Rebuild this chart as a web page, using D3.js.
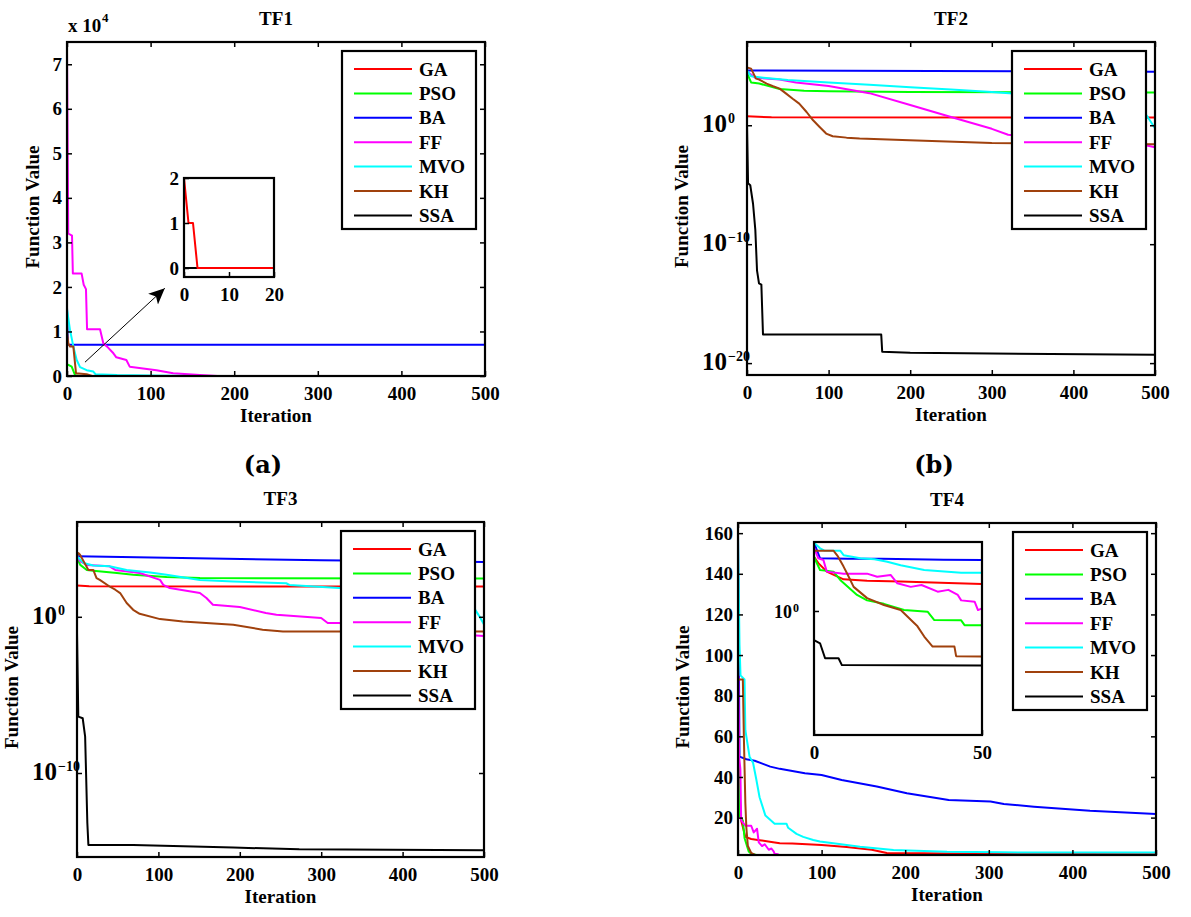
<!DOCTYPE html>
<html><head><meta charset="utf-8">
<script src="https://cdn.jsdelivr.net/npm/d3@7"></script>
<style>
body{margin:0;background:#fff;}
</style></head><body>
<svg id="c" width="1191" height="917"></svg>
<script>
// ---------- labels / ticks ----------
const algorithms = ["GA","PSO","BA","FF","MVO","KH","SSA"];
const colors = ["#ff0000","#00ff00","#0000ff","#ff00ff","#00ffff","#a0410d","#000000"];
const titles = ["TF1","TF2","TF3","TF4"];
const subLabels = ["(a)","(b)"];
const iterTicks = [0,100,200,300,400,500];
const tf1YTicks = [0,1e4,2e4,3e4,4e4,5e4,6e4,7e4];
const tf1InsetXTicks = [0,10,20];
const tf1InsetYTicks = [0,1,2];
const logTicks = [1e0,1e-10,1e-20];
const tf4YTicks = [20,40,60,80,100,120,140,160];
const tf4InsetXTicks = [0,50];
const tf4InsetYTicks = [1e0];

// ---------- TF1 series: [iteration, value] ----------
const tf1GA  = [[0,2],[1,1],[2,1],[3,0],[500,0]];
const tf1PSO = [[0,2500],[1.6,2500],[5.6,2100],[9.6,200],[15,0],[500,0]];
const tf1BA  = [[0,15500],[1,7000],[500,7000]];
const tf1FF  = [[0,73000],[1.5,32000],[6,31500],[7,23000],[17.5,23000],[20,20500],[22.7,19500],[24,10500],[39.5,10500],[43.5,7300],[48,6600],[55.5,5100],[59,4200],[71,3600],[75,2100],[91,1700],[107,1300],[127,600],[159,200],[180,0],[500,0]];
const tf1MVO = [[0,15000],[3.6,10300],[5.6,8500],[7.6,6600],[11.6,3600],[15.6,2000],[23.5,1300],[31.5,1000],[34,400],[60,200],[100,100],[150,0],[500,0]];
const tf1KH  = [[0,9800],[1.6,7300],[3.6,6600],[7.6,6600],[10.8,600],[23.5,400],[30,0],[500,0]];
const tf1SSA = [[0,0],[500,0]];

// ---------- TF2 series ----------
const tf2GA  = [[0,5.8],[30,4.6],[500,4.4]];
const tf2PSO = [[0,2.5e4],[5,4.0e3],[15,3.2e3],[40,1.1e3],[70,790],[100,710],[200,630],[500,560]];
const tf2BA  = [[0,4.0e4],[500,3.2e4]];
const tf2FF  = [[0,3.2e4],[10,1.0e4],[40,7.1e3],[60,4.0e3],[100,2.0e3],[150,500],[200,50],[250,5.0],[300,0.5],[320,0.16],[400,0.05],[490,0.02],[500,0.014]];
const tf2MVO = [[0,4.0e4],[5,1.3e4],[20,1.0e4],[50,6.3e3],[100,4.0e3],[150,2.5e3],[200,1.6e3],[250,1.0e3],[300,630],[330,450],[400,160],[450,100],[480,32],[490,6.3],[500,0.56]];
const tf2KH  = [[0,7.1e4],[5,5.8e4],[11,8.3e3],[15,6.9e3],[24,3.2e3],[32,1.9e3],[40,1.2e3],[48,460],[56,170],[64,66],[73,13],[81,2.6],[89,0.72],[97,0.2],[105,0.12],[122,0.091],[138,0.076],[199,0.055],[300,0.032],[500,0.025]];
const tf2SSA = [[0,1],[1.3,1.3e-5],[4,9e-6],[7.4,2.5e-7],[10.2,1.6e-9],[12.3,6e-13],[14.7,5e-14],[17.6,4e-14],[19.6,2.5e-18],[164.5,2.5e-18],[165.7,9e-20],[200,7.4e-20],[500,5e-20]];

// ---------- TF3 series ----------
const tf3GA  = [[0,100],[15,89],[500,87]];
const tf3PSO = [[0,5.8e3],[4,2.1e3],[12,1.0e3],[20,890],[49,630],[69,490],[110,350],[151,300],[500,280]];
const tf3BA  = [[0,7.4e3],[300,4.2e3],[500,3.2e3]];
const tf3FF  = [[0,7.4e3],[4,3.5e3],[12,2.1e3],[40,1.7e3],[47,1.0e3],[77,630],[102,230],[106,110],[114,69],[151,33],[159,16],[167,5.9],[200,4.2],[232,1.74],[245,1.35],[300,0.83],[308,0.4],[322,0.4],[400,0.13],[500,0.06]];
const tf3MVO = [[0,7.4e3],[8,2.8e3],[20,1.9e3],[40,1.7e3],[61,1.0e3],[90,690],[110,490],[151,230],[192,180],[257,140],[261,110],[322,69],[420,40],[480,16],[494,1.15],[500,0.32]];
const tf3KH  = [[0,7.9e3],[1.6,1.2e4],[3.7,9.3e3],[14,1.0e3],[20,1.0e3],[24,300],[28,230],[40,87],[47,54],[53,33],[61,7.6],[69,2.8],[77,1.55],[102,0.71],[130,0.5],[192,0.31],[228,0.15],[253,0.115],[500,0.115]];
const tf3SSA = [[0,0.1],[1.6,4.1e-7],[7,3.2e-7],[10,2.1e-8],[12.7,6.3e-14],[14,2.5e-15],[69,2.5e-15],[192,1.7e-15],[273,1.3e-15],[500,1.15e-15]];

// ---------- TF4 series ----------
const tf4GA  = [[0,56],[1.3,35],[3.8,18.6],[8.8,10.5],[15.8,9.5],[25.8,8.9],[40,8.0],[50,7.4],[65,7.3],[100,6.5],[130,5.5],[160,4.2],[178,2.6],[300,2.2],[500,2.0]];
const tf4PSO = [[0,55],[1.8,21],[5.8,18.6],[7.8,10],[12.8,3.3],[15.8,2.2],[20.8,1.7],[26.8,1.07],[33.8,0.95],[35.8,0.51],[43.8,0.5],[44.8,0.35],[50,0.35],[500,0.3]];
const tf4BA  = [[0,160],[1.8,50],[10,48.7],[20,48],[38.6,45.1],[50,44],[80,41.8],[100,41],[124,38.5],[166,35.3],[202,32],[252,28.7],[302,27.9],[318,26.7],[354,25.4],[421,23.4],[500,21.8]];
const tf4FF  = [[0,110],[1.3,50],[2.8,44],[3.8,18.6],[8.8,16],[15.8,16],[18.8,12.7],[22.8,14.5],[24.8,7.8],[28.8,6.0],[32,6.9],[36.8,4.2],[40,4.8],[42.8,3.3],[43.8,2.2],[47.8,2.0],[48.8,1.07],[50,1.2],[100,1.0],[500,0.9]];
const tf4MVO = [[0,160],[1.8,105],[3,90],[7.8,88],[8.8,63],[13.8,50],[18,47],[21.8,39],[25.8,30],[32.8,21],[43.8,17],[58,17],[60,15],[70,12],[78,10.5],[90,9],[98,8.2],[146,5.7],[186,4.1],[250,3.2],[314,2.9],[500,2.8]];
const tf4KH  = [[0,88],[5.8,88],[7,60],[8.8,27],[10,15],[11.8,6],[15.8,2.6],[20.8,1.56],[25.8,1.07],[27.8,0.66],[30.8,0.32],[32.8,0.15],[35.3,0.071],[41.8,0.071],[42.3,0.035],[50,0.034],[500,0.03]];
const tf4SSA = [[0,0.115],[1.8,0.091],[3.3,0.03],[7.3,0.03],[8.3,0.018],[50,0.0174],[500,0.017]];

// annotation arrow in TF1 data coordinates
const tf1ArrowFrom = [21.5, 3100];
const tf1ArrowTo = [117, 19700];

const tf1 = [tf1GA,tf1PSO,tf1BA,tf1FF,tf1MVO,tf1KH,tf1SSA];
const tf2 = [tf2GA,tf2PSO,tf2BA,tf2FF,tf2MVO,tf2KH,tf2SSA];
const tf3 = [tf3GA,tf3PSO,tf3BA,tf3FF,tf3MVO,tf3KH,tf3SSA];
const tf4 = [tf4GA,tf4PSO,tf4BA,tf4FF,tf4MVO,tf4KH,tf4SSA];

// ---------- layout ----------
const FONT = "'Liberation Serif', 'Times New Roman', Times, serif";
const svg = d3.select("#c");
const FS = 19;
function txt(sel){ return sel.append("text").style("font-family",FONT).style("font-weight","bold").attr("fill","#000"); }
const panels = [
  {x0:67, x1:485, y0:42, y1:376, ylabX:39},
  {x0:747,x1:1155,y0:42, y1:375, ylabX:688},
  {x0:77, x1:484, y0:522,y1:857, ylabX:18},
  {x0:738,x1:1156,y0:523,y1:855, ylabX:689}
];
const defs = svg.append("defs");
defs.append("marker").attr("id","arr").attr("viewBox","0 0 10 10")
  .attr("refX",10).attr("refY",5).attr("markerWidth",16).attr("markerHeight",16)
  .attr("markerUnits","userSpaceOnUse").attr("orient","auto")
  .append("path").attr("d","M0,0.5 L10,5 L0,9.5 L2.5,5 Z").attr("fill","#000");

let clipN = 0;
function makeClip(x0,y0,x1,y1){
  const id = "clip"+(clipN++);
  defs.append("clipPath").attr("id",id).append("rect")
    .attr("x",x0).attr("y",y0).attr("width",x1-x0).attr("height",y1-y0);
  return id;
}

function drawSeries(data, x, y, box, cols){
  const id = makeClip(box.x0,box.y0,box.x1,box.y1);
  const g = svg.append("g").attr("clip-path","url(#"+id+")");
  const line = d3.line().x(d=>x(d[0])).y(d=>y(d[1]));
  data.forEach((s,i)=>{
    g.append("path").attr("d",line(s)).attr("fill","none")
      .attr("stroke",(cols||colors)[i]).attr("stroke-width",2).attr("stroke-linejoin","round");
  });
}

function frame(box, x, y, xTicks, yTicks, opts){
  opts = opts||{};
  const gx = svg.append("g").attr("transform","translate(0,"+box.y1+")")
    .call(d3.axisBottom(x).tickValues(xTicks).tickSize(-5).tickPadding(10.5));
  const gxt = svg.append("g").attr("transform","translate(0,"+box.y0+")")
    .call(d3.axisTop(x).tickValues(opts.noMirror?[]:xTicks).tickSize(-5).tickFormat(""));
  const ya = d3.axisLeft(y).tickValues(yTicks).tickSize(-5).tickPadding(5);
  if (opts.yFormat) ya.tickFormat(opts.yFormat);
  if (opts.logLabels) ya.tickFormat("");
  const gy = svg.append("g").attr("transform","translate("+box.x0+",0)").call(ya);
  const gyr = svg.append("g").attr("transform","translate("+box.x1+",0)")
    .call(d3.axisRight(y).tickValues(opts.noMirror?[]:yTicks).tickSize(-5).tickFormat(""));
  [gx,gxt,gy,gyr].forEach(g=>{
    g.attr("font-family",null).attr("font-size",null);
    g.select(".domain").remove();
    g.selectAll(".tick line").attr("stroke","#000").attr("stroke-width",1.5);
    g.selectAll("text").attr("font-size",FS).style("font-family",FONT).style("font-weight","bold").attr("fill","#000");
  });
  svg.append("rect").attr("x",box.x0).attr("y",box.y0)
    .attr("width",box.x1-box.x0).attr("height",box.y1-box.y0)
    .attr("fill","none").attr("stroke","#000").attr("stroke-width",2.2);
  if (opts.logLabels){
    const L = opts.logLabels;
    yTicks.forEach(t=>{
      const e = Math.round(Math.log10(t));
      const ty = y(t);
      txt(svg).attr("x",box.x0-L.gap).attr("y",ty+L.base)
        .attr("text-anchor","end").attr("font-size",L.fs).text("10");
      txt(svg).attr("x",box.x0-L.gap+1).attr("y",ty+L.supBase)
        .attr("font-size",L.sfs).text(e<0 ? "\u2212"+(-e) : String(e));
    });
  }
}

function legend(box){
  const w=134, h=178;
  const lx = box.x1-9-w, ly = box.y0+9;
  const g = svg.append("g");
  g.append("rect").attr("x",lx).attr("y",ly).attr("width",w).attr("height",h)
    .attr("fill","#fff").attr("stroke","#000").attr("stroke-width",2.2);
  algorithms.forEach((a,i)=>{
    const yy = ly+18+i*24.4;
    g.append("line").attr("x1",lx+12).attr("x2",lx+70).attr("y1",yy).attr("y2",yy)
      .attr("stroke",colors[i]).attr("stroke-width",2);
    txt(g).attr("x",lx+77).attr("y",yy).attr("dy","0.35em")
      .attr("font-size",FS).text(a);
  });
}

function labels(box, k){
  const cx=(box.x0+box.x1)/2;
  txt(svg).attr("x",cx).attr("y",box.y0-17).attr("text-anchor","middle")
    .attr("font-size",FS).text(titles[k]);
  txt(svg).attr("x",cx).attr("y",box.y1+46).attr("text-anchor","middle")
    .attr("font-size",FS).text("Iteration");
  txt(svg).attr("transform","translate("+box.ylabX+","+((box.y0+box.y1)/2-2)+") rotate(-90)")
    .attr("text-anchor","middle").attr("font-size",FS).text("Function Value");
}

const logLab = {gap:20, base:7, supBase:-2, fs:25, sfs:14};

// ===== TF1 =====
{
  const b = panels[0];
  const x = d3.scaleLinear().domain([0,500]).range([b.x0,b.x1]);
  const y = d3.scaleLinear().domain([0,75000]).range([b.y1,b.y0]);
  drawSeries(tf1, x, y, b);
  frame(b, x, y, iterTicks, tf1YTicks, {yFormat:d=>d/1e4});
  labels(b,0);
  txt(svg).attr("x",b.x0+1).attr("y",32).attr("font-size",FS).text("x 10");
  txt(svg).attr("x",b.x0+35).attr("y",22).attr("font-size",13).text("4");
  // arrow
  svg.append("line").attr("x1",x(tf1ArrowFrom[0])).attr("y1",y(tf1ArrowFrom[1]))
    .attr("x2",x(tf1ArrowTo[0])).attr("y2",y(tf1ArrowTo[1]))
    .attr("stroke","#000").attr("stroke-width",1).attr("marker-end","url(#arr)");
  // inset: GA and SSA zoom
  const ib = {x0:184,x1:274,y0:178,y1:277};
  svg.append("rect").attr("x",ib.x0).attr("y",ib.y0).attr("width",ib.x1-ib.x0).attr("height",ib.y1-ib.y0).attr("fill","#fff");
  const xi = d3.scaleLinear().domain([0,20]).range([ib.x0,ib.x1]);
  const yi = d3.scaleLinear().domain([-0.2,2]).range([ib.y1,ib.y0]);
  drawSeries([tf1SSA, tf1GA], xi, yi, ib, [colors[6], colors[0]]);
  frame(ib, xi, yi, tf1InsetXTicks, tf1InsetYTicks, {noMirror:true, yFormat:d3.format("d")});
  legend(b);
}

// ===== TF2 =====
{
  const b = panels[1];
  const x = d3.scaleLinear().domain([0,500]).range([b.x0,b.x1]);
  const y = d3.scaleLog().domain([1e-21,1e7]).range([b.y1,b.y0]);
  drawSeries(tf2, x, y, b);
  frame(b, x, y, iterTicks, logTicks, {logLabels:logLab});
  labels(b,1);
  legend(b);
}

// ===== TF3 =====
{
  const b = panels[2];
  const x = d3.scaleLinear().domain([0,500]).range([b.x0,b.x1]);
  const y = d3.scaleLog().domain([4.2e-16,1.17e6]).range([b.y1,b.y0]);
  drawSeries(tf3, x, y, b);
  frame(b, x, y, iterTicks, logTicks.filter(t=>t>=4.2e-16), {logLabels:logLab});
  labels(b,2);
  legend(b);
}

// ===== TF4 =====
{
  const b = panels[3];
  const x = d3.scaleLinear().domain([0,500]).range([b.x0,b.x1]);
  const y = d3.scaleLinear().domain([1.6,165]).range([b.y1,b.y0]);
  drawSeries(tf4, x, y, b);
  frame(b, x, y, iterTicks, tf4YTicks);
  labels(b,3);
  // inset (log scale)
  const ib = {x0:814,x1:982,y0:542,y1:735};
  svg.append("rect").attr("x",ib.x0).attr("y",ib.y0).attr("width",ib.x1-ib.x0).attr("height",ib.y1-ib.y0).attr("fill","#fff");
  const xi = d3.scaleLinear().domain([0,50]).range([ib.x0,ib.x1]);
  const yi = d3.scaleLog().domain([1e-4,168]).range([ib.y1,ib.y0]);
  drawSeries(tf4.map(s=>s.filter(d=>d[0]<=60)), xi, yi, ib);
  frame(ib, xi, yi, tf4InsetXTicks, tf4InsetYTicks, {noMirror:true, logLabels:{gap:22, base:7, supBase:1, fs:18, sfs:12}});
  legend(b);
}

// sub-figure labels
txt(svg).attr("x",263).attr("y",473).attr("text-anchor","middle")
  .style("font-family","'DejaVu Serif', serif").attr("font-size",24).text(subLabels[0]);
txt(svg).attr("x",934).attr("y",473).attr("text-anchor","middle")
  .style("font-family","'DejaVu Serif', serif").attr("font-size",24).text(subLabels[1]);
</script>
</body></html>
